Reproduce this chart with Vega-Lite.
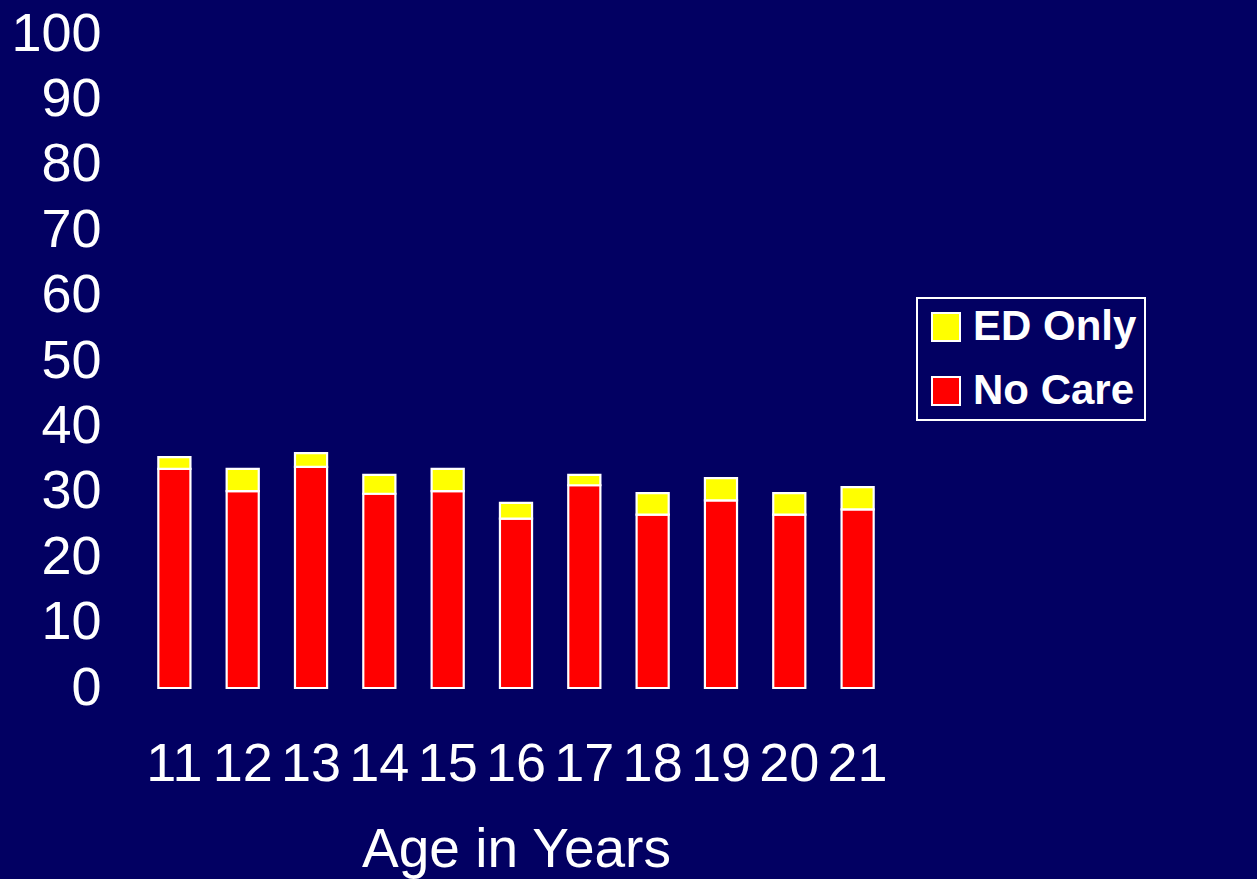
{
  "$schema": "https://vega.github.io/schema/vega-lite/v6.json",
  "autosize": {"type": "none"},
  "padding": {"left": 131, "top": 34, "right": 356, "bottom": 191},
  "width": 770,
  "height": 654,
  "background": "#020062",
  "config": {
    "view": {"stroke": null},
    "font": "Liberation Sans",
    "legend": {"strokeWidth": 2}
  },
  "data": {
    "values": [
      {"age": "11", "series": "No Care", "value": 33.5},
      {"age": "11", "series": "ED Only", "value": 1.8},
      {"age": "12", "series": "No Care", "value": 30.1},
      {"age": "12", "series": "ED Only", "value": 3.4},
      {"age": "13", "series": "No Care", "value": 33.8},
      {"age": "13", "series": "ED Only", "value": 2.1},
      {"age": "14", "series": "No Care", "value": 29.7},
      {"age": "14", "series": "ED Only", "value": 2.9},
      {"age": "15", "series": "No Care", "value": 30.1},
      {"age": "15", "series": "ED Only", "value": 3.4},
      {"age": "16", "series": "No Care", "value": 25.9},
      {"age": "16", "series": "ED Only", "value": 2.4},
      {"age": "17", "series": "No Care", "value": 31.0},
      {"age": "17", "series": "ED Only", "value": 1.6},
      {"age": "18", "series": "No Care", "value": 26.5},
      {"age": "18", "series": "ED Only", "value": 3.3},
      {"age": "19", "series": "No Care", "value": 28.7},
      {"age": "19", "series": "ED Only", "value": 3.4},
      {"age": "20", "series": "No Care", "value": 26.5},
      {"age": "20", "series": "ED Only", "value": 3.3},
      {"age": "21", "series": "No Care", "value": 27.3},
      {"age": "21", "series": "ED Only", "value": 3.4}
    ]
  },
  "mark": {"type": "bar", "stroke": "white", "strokeWidth": 2.2},
  "encoding": {
    "x": {
      "field": "age",
      "type": "ordinal",
      "scale": {"paddingInner": 0.53, "paddingOuter": 0.4},
      "axis": {
        "title": "Age in Years",
        "titleColor": "white",
        "titleFont": "Liberation Sans",
        "titleFontSize": 55,
        "titleFontWeight": "normal",
        "titlePadding": 32,
        "labelColor": "white",
        "labelFont": "Liberation Sans",
        "labelFontSize": 54,
        "labelAngle": 0,
        "labelPadding": 49,
        "ticks": false,
        "domain": false
      }
    },
    "y": {
      "field": "value",
      "type": "quantitative",
      "stack": "zero",
      "scale": {"domain": [0, 100], "nice": false},
      "axis": {
        "title": null,
        "values": [0, 10, 20, 30, 40, 50, 60, 70, 80, 90, 100],
        "labelColor": "white",
        "labelFont": "Liberation Sans",
        "labelFontSize": 54,
        "labelPadding": 30,
        "ticks": false,
        "domain": false,
        "grid": false
      }
    },
    "color": {
      "field": "series",
      "type": "nominal",
      "scale": {"domain": ["ED Only", "No Care"], "range": ["#FFFF00", "#FF0000"]},
      "legend": {
        "title": null,
        "orient": "none",
        "legendX": 786,
        "legendY": 264,
        "direction": "vertical",
        "strokeColor": "white",
        "padding": 8,
        "symbolType": "square",
        "symbolSize": 784,
        "symbolStrokeColor": "white",
        "symbolStrokeWidth": 2,
        "labelColor": "white",
        "labelFont": "Liberation Sans",
        "labelFontSize": 42,
        "labelFontWeight": "bold",
        "labelOffset": 6,
        "rowPadding": 22,
        "labelLimit": 600
      }
    },
    "order": {"field": "series", "sort": "descending"}
  }
}
